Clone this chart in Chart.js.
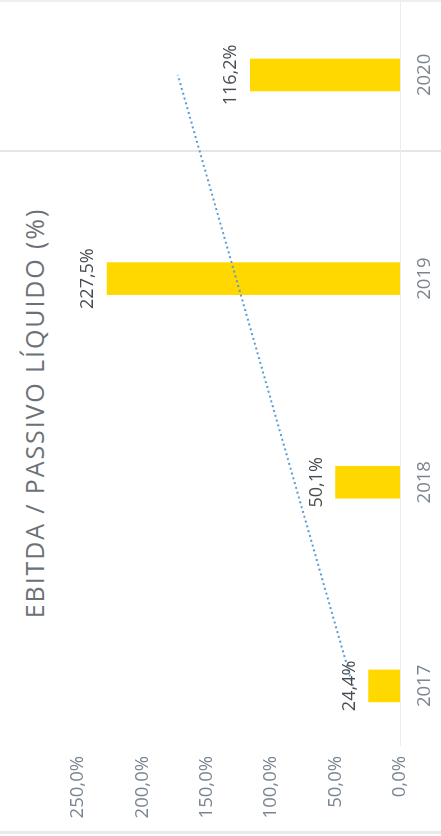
<!DOCTYPE html>
<html>
<head>
<meta charset="utf-8">
<script src="https://cdn.jsdelivr.net/npm/chart.js@4.4.1/dist/chart.umd.min.js"></script>
<style>
    html, body { margin: 0; padding: 0; background: #fff; }
    body { width: 441px; height: 836px; position: relative; overflow: hidden; }
    /* o gráfico é desenhado deitado e girado para a página em pé */
    #painel {
        position: absolute; left: 0; top: 0;
        width: 836px; height: 441px;
        transform-origin: 0 0;
        transform: translateY(836px) rotate(-90deg);
    }
    #titulo {
        position: absolute; left: 0; top: 17px; width: 846px;
        text-align: center;
        font: 400 25px "Open Sans", sans-serif;
        letter-spacing: 1.9px;
        color: #6c7177;
    }
    #painel canvas { position: absolute; left: 0; top: 0; }
    .regua { position: absolute; left: 0; width: 441px; background: #e6e6e6; }
</style>
</head>
<body>
<div class="regua" style="top:0; height:2px; background:#efefef"></div>
<div class="regua" style="top:150px; height:2px"></div>
<div class="regua" style="top:831px; height:3px; background:#e9e9e9"></div>
<div id="painel">
    <div id="titulo">EBITDA / PASSIVO LÍQUIDO (%)</div>
    <canvas id="ebitdaChart" width="836" height="441"></canvas>
</div>
<script>
// Dados do indicador EBITDA / Passivo Líquido
const anos = [2017, 2018, 2019, 2020];
const indice = [24.4, 50.1, 227.5, 116.2];
const ticksValor = [0, 50, 100, 150, 200, 250];
// linha de tendência (início em 2017, fim em 2020)
const tendencia = [36.6, 172.5];

const fonteEixo = { family: '"Open Sans"', size: 18.5 };
const fmtPct = v => v.toLocaleString('pt-BR', { minimumFractionDigits: 1, maximumFractionDigits: 1 }) + '%';

// Plugin para escrever o valor acima de cada coluna
const rotulosPlugin = {
    id: 'rotulos',
    afterDatasetsDraw(chart) {
        const ctx = chart.ctx;
        const meta = chart.getDatasetMeta(0);
        meta.data.forEach((el, i) => {
            ctx.save();
            ctx.font = '18px "Open Sans"';
            ctx.fillStyle = '#474c52';
            ctx.textAlign = 'center';
            ctx.textBaseline = 'middle';
            ctx.fillText(fmtPct(indice[i]), el.x, el.y - 19);
            ctx.restore();
        });
    }
};

new Chart(document.getElementById('ebitdaChart'), {
    type: 'bar',
    data: {
        datasets: [
            {
                type: 'bar',
                data: anos.map((a, i) => ({ x: a, y: indice[i] })),
                backgroundColor: '#ffd800',
                barThickness: 32,
                order: 2
            },
            {
                type: 'line',
                data: [{ x: anos[0], y: tendencia[0] }, { x: anos[anos.length - 1], y: tendencia[1] }],
                borderColor: '#5b9bd0',
                borderWidth: 2,
                borderDash: [2, 3],
                pointRadius: 0,
                fill: false,
                order: 1
            }
        ]
    },
    options: {
        responsive: false,
        animation: false,
        devicePixelRatio: 1,
        layout: { padding: { top: 78, bottom: 0, left: 0, right: 0 } },
        plugins: { legend: { display: false }, tooltip: { enabled: false } },
        scales: {
            x: {
                type: 'linear',
                offset: false,
                min: 2016.705,
                max: 2020.368,
                afterBuildTicks: axis => { axis.ticks = anos.map(v => ({ value: v })); },
                afterFit: axis => { axis.height = 41; },
                grid: { display: false, drawTicks: false },
                border: { display: true, color: '#ececec', width: 1 },
                ticks: {
                    padding: 14,
                    color: '#7b858f',
                    font: fonteEixo,
                    callback: v => String(v)
                }
            },
            y: {
                min: 0,
                max: 250,
                afterBuildTicks: axis => { axis.ticks = ticksValor.map(v => ({ value: v })); },
                afterFit: axis => { axis.width = 90; },
                grid: { display: false, drawTicks: false },
                border: { display: false },
                ticks: {
                    padding: 10,
                    color: '#7b858f',
                    font: fonteEixo,
                    callback: v => fmtPct(v)
                }
            }
        }
    },
    plugins: [rotulosPlugin]
});
</script>
</body>
</html>
